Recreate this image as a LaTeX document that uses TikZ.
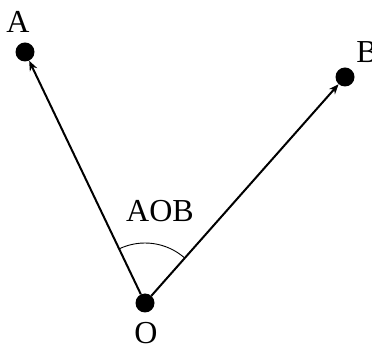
\documentclass[tikz,border=0pt]{standalone}
\usepackage{fontspec}
\setmainfont{Liberation Serif}
\usetikzlibrary{arrows.meta}
\begin{document}
\begin{tikzpicture}[x=1pt,y=1pt,
  dot/.style={circle,fill=black,inner sep=0pt,minimum size=19pt},
  lbl/.style={inner sep=0pt,anchor=base,font=\fontsize{32}{32}\selectfont},
  vec/.style={line width=2pt,-{Stealth[length=10pt,width=8pt]}},
  anglearc/.style={line width=0.9pt}]
\useasboundingbox (0,0) rectangle (372,345);
\node[dot] (O) at (145,42) {};
\node[dot] (A) at (25,293) {};
\node[dot] (B) at (345,268) {};
\node[lbl] (lA) at (18,312) {A};
\node[lbl] (lB) at (367,282) {B};
\node[lbl] (lO) at (146,1) {O};
\node[lbl] (lAOB) at (160,123) {AOB};
\draw[vec] (O) -- (A);
\draw[vec] (O) -- (B);
\draw[anglearc] ([shift={(48.5:60)}]O.center) arc (48.5:115.5:60);
\end{tikzpicture}
\end{document}
